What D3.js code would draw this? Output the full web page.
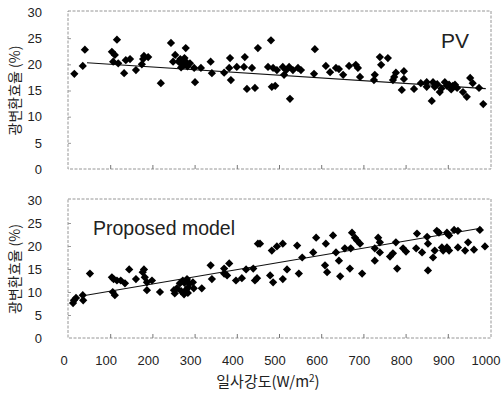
<!DOCTYPE html>
<html>
<head>
<meta charset="utf-8">
<script src="https://cdn.jsdelivr.net/npm/d3@7"></script>
<style>
  body { margin: 0; background: #fff; }
  text { font-family: "Liberation Sans", Arial, sans-serif; fill: #222; }
</style>
</head>
<body>
<div id="chart"></div>
<script>
// irradiance (W/m2) and efficiency (%)
const pvX = [15,35,40,104,111,107,116,119,133,137,147,161,175,178,190,180,220,244,254,249,262,266,270,274,278,283,268,276,279,289,301,299,315,338,341,370,384,382,386,400,419,417,424,436,443,450,
  481,474,486,495,483,491,509,512,517,524,526,533,545,552,585,583,611,621,635,642,652,666,682,687,692,727,725,739,742,758,777,773,770,796,796,791,820,836,850,850,862,865,869,881,
  893,903,912,922,936,945,953,959,974,984,875,885,898,908,917];
const pvY = [18.2,19.7,22.8,22.4,21.8,20.5,24.7,20.2,18.3,20.8,21,18.9,20,21,21.4,21.6,16.4,24.1,21.8,20.5,20.5,21,20,19.8,20.6,19.6,19.4,21.2,23.1,20.2,16.6,19.3,19.3,20.5,18.3,18.4,21.2,19.3,17,19.5,21.4,19.5,15.3,19.3,15.5,23.1,
  24.6,19.5,19.3,18.9,15.7,15.9,19.5,18,18.9,19.5,13.4,18.9,19.3,18.9,22.9,18.2,19.7,18.5,19.3,19.1,18,19.7,19.9,19.3,17.6,18,17,21.4,19.9,21.2,18.4,17.6,17,18.7,17.2,15.1,15.3,16.4,16.6,15.7,13,16.6,15.7,14.7,
  16.6,16.1,15.9,15.5,14.7,13.8,17.4,16.4,15.5,12.4,16.2,15.4,15.9,15.2,16.1];

const modelX = [12,14,19,35,36,52,104,108,111,116,106,125,135,145,161,177,180,182,187,199,187,218,251,253,258,265,272,268,276,280,284,275,282,288,277,285,296,298,317,
  338,341,370,382,370,377,398,412,422,439,448,450,443,455,479,486,483,495,509,509,519,543,547,555,581,588,611,609,614,628,635,642,645,656,668,670,673,680,685,692,697,
  727,727,735,739,739,763,770,777,780,794,801,827,825,839,851,853,853,865,869,874,879,886,889,898,903,898,903,915,924,924,941,948,962,976,988];
const modelY = [7.6,8.2,8.7,9.3,8.2,14,13.2,12.8,9.3,12.5,10,12.5,11.9,14.9,12.8,14.3,14.9,13.2,10.4,12.5,12.1,10,10.4,9.7,10.8,11.9,12.5,10.2,12,10.5,9.8,9.5,12.8,11.8,10,11,12.1,10.8,10.8,
  15.8,12.8,15.1,16.2,14,13.6,12.5,13,14.9,15.1,13,20.5,12.5,20.5,13.6,12.1,19,19.9,20.5,12.8,14.9,20.1,14,17.5,18.6,21.8,20.5,15.8,14.3,22.3,18.6,16.8,13.4,19.5,15.1,19.5,22.9,21.8,21.2,20.5,14,
  16.8,19.5,21.8,20.8,18.6,17.7,18.4,20.8,15.1,19.5,18.8,22.7,19.5,18.6,22,20.5,14.7,17.5,19,23.3,22.9,19.7,19,19.7,19,22.9,22.3,23.5,23.3,19.7,19,20.8,19.2,23.5,19.9];

// regression line end points [x, y]
const pvTrend = [[45, 20.3], [990, 15.35]];
const modelTrend = [[43, 9.3], [981, 23.9]];

const xTicks = [0,100,200,300,400,500,600,700,800,900,1000];
const yTicks = [0,5,10,15,20,25,30];

const width = 502, height = 398;

const svg = d3.select('#chart').append('svg')
  .attr('width', width)
  .attr('height', height);

const x = d3.scaleLinear().domain([0, 1000]).range([68, 490]);

function panel(xs, vals, trend, top, bottom, title, tx, ty, tsize){
  const y = d3.scaleLinear().domain([0, 30]).range([bottom, top]);
  const g = svg.append('g');

  g.append('rect')
    .attr('x', 68).attr('y', top - 1)
    .attr('width', 423).attr('height', bottom - top + 1)
    .attr('fill', 'none')
    .attr('stroke', '#8a8a8a')
    .attr('stroke-width', 0.9)
    .attr('stroke-dasharray', '3,1.5');

  // inside tick marks
  g.append('g')
    .attr('transform', 'translate(0,' + bottom + ')')
    .call(d3.axisBottom(x).tickValues(xTicks.slice(1, -1)).tickSize(-4).tickFormat(''))
    .call(a => a.select('.domain').remove())
    .call(a => a.selectAll('line').attr('stroke', '#777'));
  g.append('g')
    .attr('transform', 'translate(68,0)')
    .call(d3.axisLeft(y).tickValues(yTicks.slice(1, -1)).tickSize(-3).tickFormat(''))
    .call(a => a.select('.domain').remove())
    .call(a => a.selectAll('line').attr('stroke', '#999'));

  g.selectAll('text.ytick')
    .data(yTicks)
    .enter().append('text')
    .attr('class', 'ytick')
    .attr('x', 42)
    .attr('y', d => y(d))
    .attr('dy', '0.36em')
    .attr('text-anchor', 'end')
    .attr('font-size', 13)
    .text(d => d);

  g.append('line')
    .attr('x1', x(trend[0][0])).attr('y1', y(trend[0][1]))
    .attr('x2', x(trend[1][0])).attr('y2', y(trend[1][1]))
    .attr('stroke', '#111')
    .attr('stroke-width', 1.1);

  const sym = d3.symbol().type(d3.symbolSquare).size(34);
  g.selectAll('path.pt')
    .data(xs.map((d, i) => [d, vals[i]]))
    .enter().append('path')
    .attr('class', 'pt')
    .attr('d', sym)
    .attr('fill', '#000')
    .attr('transform', d => 'translate(' + x(d[0]) + ',' + y(d[1]) + ') rotate(45)');

  g.append('text')
    .attr('x', tx).attr('y', ty)
    .attr('font-size', tsize)
    .text(title);

  g.append('text')
    .attr('transform', 'translate(20,' + (top + bottom) / 2 + ') rotate(-90)')
    .attr('text-anchor', 'middle')
    .attr('font-size', 14)
    .style('font-family', '"Noto Sans CJK KR", sans-serif')
    .text('광변환효율 (%)');
}

panel(pvX, pvY, pvTrend, 12, 169, 'PV', 441, 48, 21);
panel(modelX, modelY, modelTrend, 200, 338, 'Proposed model', 93, 235, 19.5);

svg.selectAll('text.xtick')
  .data(xTicks)
  .enter().append('text')
  .attr('class', 'xtick')
  .attr('x', d => x(d) - 4)
  .attr('y', 365)
  .attr('text-anchor', 'middle')
  .attr('font-size', 13)
  .text(d => d);

const xl = svg.append('text')
  .attr('x', 268).attr('y', 387)
  .attr('text-anchor', 'middle')
  .attr('font-size', 15)
  .style('font-family', '"Noto Sans CJK KR", sans-serif');
xl.append('tspan').text('일사강도(W/m');
xl.append('tspan').attr('dy', -5).attr('font-size', 10).text('2');
xl.append('tspan').attr('dy', 5).text(')');
</script>
</body>
</html>
